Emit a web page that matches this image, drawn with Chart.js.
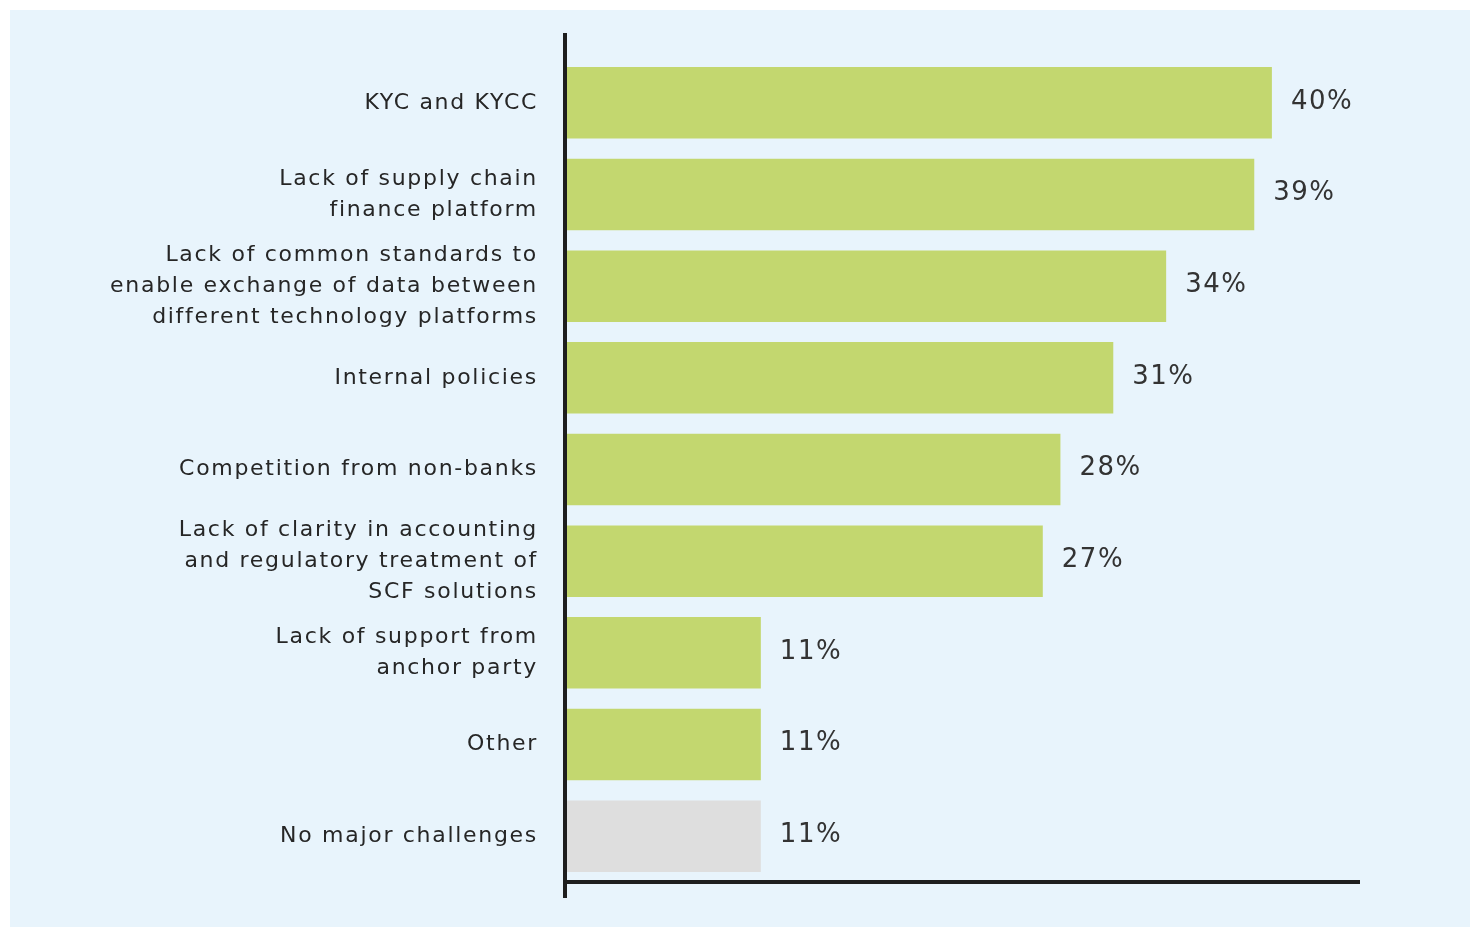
<!DOCTYPE html>
<html>
<head>
<meta charset="utf-8">
<script src="https://cdn.jsdelivr.net/npm/chart.js@4.4.1/dist/chart.umd.min.js"></script>
<style>
    body { margin: 0; background: #ffffff; }
    #panel { position: absolute; left: 10px; top: 10px; width: 1460px; height: 917px; background: #e8f4fc; }
    #chartBox { position: relative; width: 1460px; height: 917px; }
</style>
</head>
<body>
<div id="panel"><div id="chartBox"><canvas id="myChart"></canvas></div></div>
<script>
// chart data
var categories = [
    ["KYC and KYCC"],
    ["Lack of supply chain", "finance platform"],
    ["Lack of common standards to", "enable exchange of data between", "different technology platforms"],
    ["Internal policies"],
    ["Competition from non-banks"],
    ["Lack of clarity in accounting", "and regulatory treatment of", "SCF solutions"],
    ["Lack of support from", "anchor party"],
    ["Other"],
    ["No major challenges"]
];
var values = [40, 39, 34, 31, 28, 27, 11, 11, 11];
var barColors = ["#c3d76f", "#c3d76f", "#c3d76f", "#c3d76f", "#c3d76f", "#c3d76f", "#c3d76f", "#c3d76f", "#dedede"];

// wide letter spacing like the original typeface
var spacing = {
    id: 'spacing',
    beforeDraw: function (chart) { chart.ctx.letterSpacing = '1.7px'; },
    afterDraw: function (chart) { chart.ctx.letterSpacing = '0px'; }
};

var axisLines = {
    id: 'axisLines',
    afterDraw: function (chart) {
        var ctx = chart.ctx;
        var area = chart.chartArea;
        ctx.save();
        ctx.strokeStyle = '#1e1e1e';
        ctx.lineWidth = 4;
        ctx.beginPath();
        ctx.moveTo(area.left - 2, 23);
        ctx.lineTo(area.left - 2, 888);
        ctx.moveTo(area.left - 2, area.bottom);
        ctx.lineTo(area.right, area.bottom);
        ctx.stroke();
        ctx.restore();
    }
};

var valueLabels = {
    id: 'valueLabels',
    afterDatasetsDraw: function (chart) {
        var ctx = chart.ctx;
        var meta = chart.getDatasetMeta(0);
        ctx.save();
        ctx.font = '26px "DejaVu Sans"';
        ctx.letterSpacing = '1.5px';
        ctx.fillStyle = '#333333';
        ctx.textAlign = 'left';
        ctx.textBaseline = 'middle';
        meta.data.forEach(function (bar, i) {
            ctx.fillText(values[i] + '%', bar.x + 19, bar.y - 1);
        });
        ctx.restore();
    }
};

var ctx = document.getElementById('myChart').getContext('2d');
var chart = new Chart(ctx, {
    type: 'bar',
    data: {
        labels: categories,
        datasets: [{
            data: values,
            backgroundColor: barColors,
            borderWidth: 0,
            barPercentage: 0.78,
            categoryPercentage: 1
        }]
    },
    options: {
        indexAxis: 'y',
        responsive: true,
        maintainAspectRatio: false,
        animation: false,
        layout: { padding: { top: 47, bottom: 45, right: 110, left: 0 } },
        plugins: {
            legend: { display: false },
            tooltip: { enabled: false }
        },
        scales: {
            x: {
                display: false,
                min: 0,
                max: 45
            },
            y: {
                afterFit: function (scale) { scale.width = 557; },
                grid: { display: false, drawTicks: false },
                border: { display: false },
                ticks: {
                    autoSkip: false,
                    padding: 29,
                    color: '#262626',
                    font: { family: '"DejaVu Sans"', size: 22, lineHeight: 1.4 }
                }
            }
        }
    },
    plugins: [spacing, axisLines, valueLabels]
});
</script>
</body>
</html>
